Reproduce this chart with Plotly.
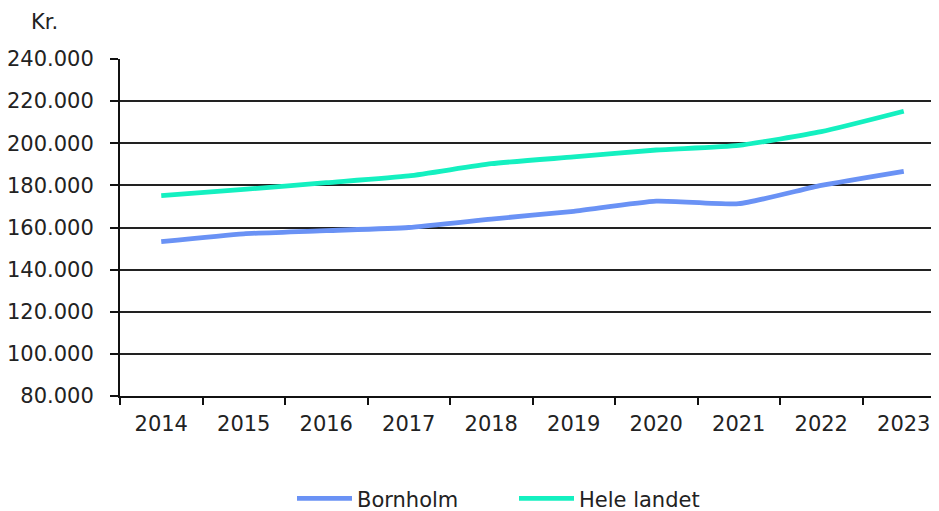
import plotly.graph_objects as go

years = ["2014", "2015", "2016", "2017", "2018", "2019", "2020", "2021", "2022", "2023"]
bornholm = [153300, 157000, 158500, 160000, 164000, 167700, 172500, 171300, 180000, 186700]
hele_landet = [175100, 178100, 181300, 184500, 190300, 193500, 196800, 199000, 205500, 215200]
y_ticks = [80000, 100000, 120000, 140000, 160000, 180000, 200000, 220000, 240000]

FONT = "DejaVu Sans"
TXT = "#222222"

fig = go.Figure()
fig.add_trace(go.Scatter(x=years, y=bornholm, name="Bornholm", mode="lines",
                         line=dict(color="#6A92F5", width=4.8, shape="spline", smoothing=0.5)))
fig.add_trace(go.Scatter(x=years, y=hele_landet, name="Hele landet", mode="lines",
                         line=dict(color="#14F0C0", width=4.8, shape="spline", smoothing=0.5)))

# page body has an 8px margin, so the figure is sized/offset accordingly
fig.update_layout(
    width=931, height=503,
    margin=dict(l=112, r=2, t=51, b=115, autoexpand=False),
    paper_bgcolor="white", plot_bgcolor="white",
    separators=",.",
    font=dict(family=FONT, size=21, color=TXT),
    showlegend=True,
    legend=dict(orientation="h", x=(292 - 120) / 817, xanchor="left", y=-0.305, yanchor="middle",
                font=dict(family=FONT, size=21, color=TXT), itemwidth=55,
                entrywidth=152,
                bgcolor="rgba(0,0,0,0)", tracegroupgap=0),
    annotations=[dict(text="Kr.", xref="paper", yref="paper", x=-0.092, y=1.11,
                      xanchor="center", yanchor="middle", showarrow=False,
                      font=dict(family=FONT, size=21, color=TXT))],
)
fig.update_xaxes(type="category", range=[-0.5, 9.403], tickson="boundaries",
                 ticks="outside", ticklen=7, tickwidth=2, tickcolor="#111",
                 showline=True, linecolor="#111", linewidth=2, automargin=False,
                 showgrid=False, zeroline=False, fixedrange=True,
                 tickfont=dict(family=FONT, size=21, color=TXT), ticklabelstandoff=8)
fig.update_yaxes(range=[80000, 240000], tickmode="array", tickvals=y_ticks,
                 tickformat=",d", automargin=False,
                 ticks="outside", ticklen=8, tickwidth=2, tickcolor="#111",
                 showline=True, linecolor="#111", linewidth=2,
                 showgrid=True, gridcolor="#222", gridwidth=2, zeroline=False,
                 fixedrange=True, tickfont=dict(family=FONT, size=21, color=TXT),
                 ticklabelstandoff=12)

fig.write_html("out.html")
